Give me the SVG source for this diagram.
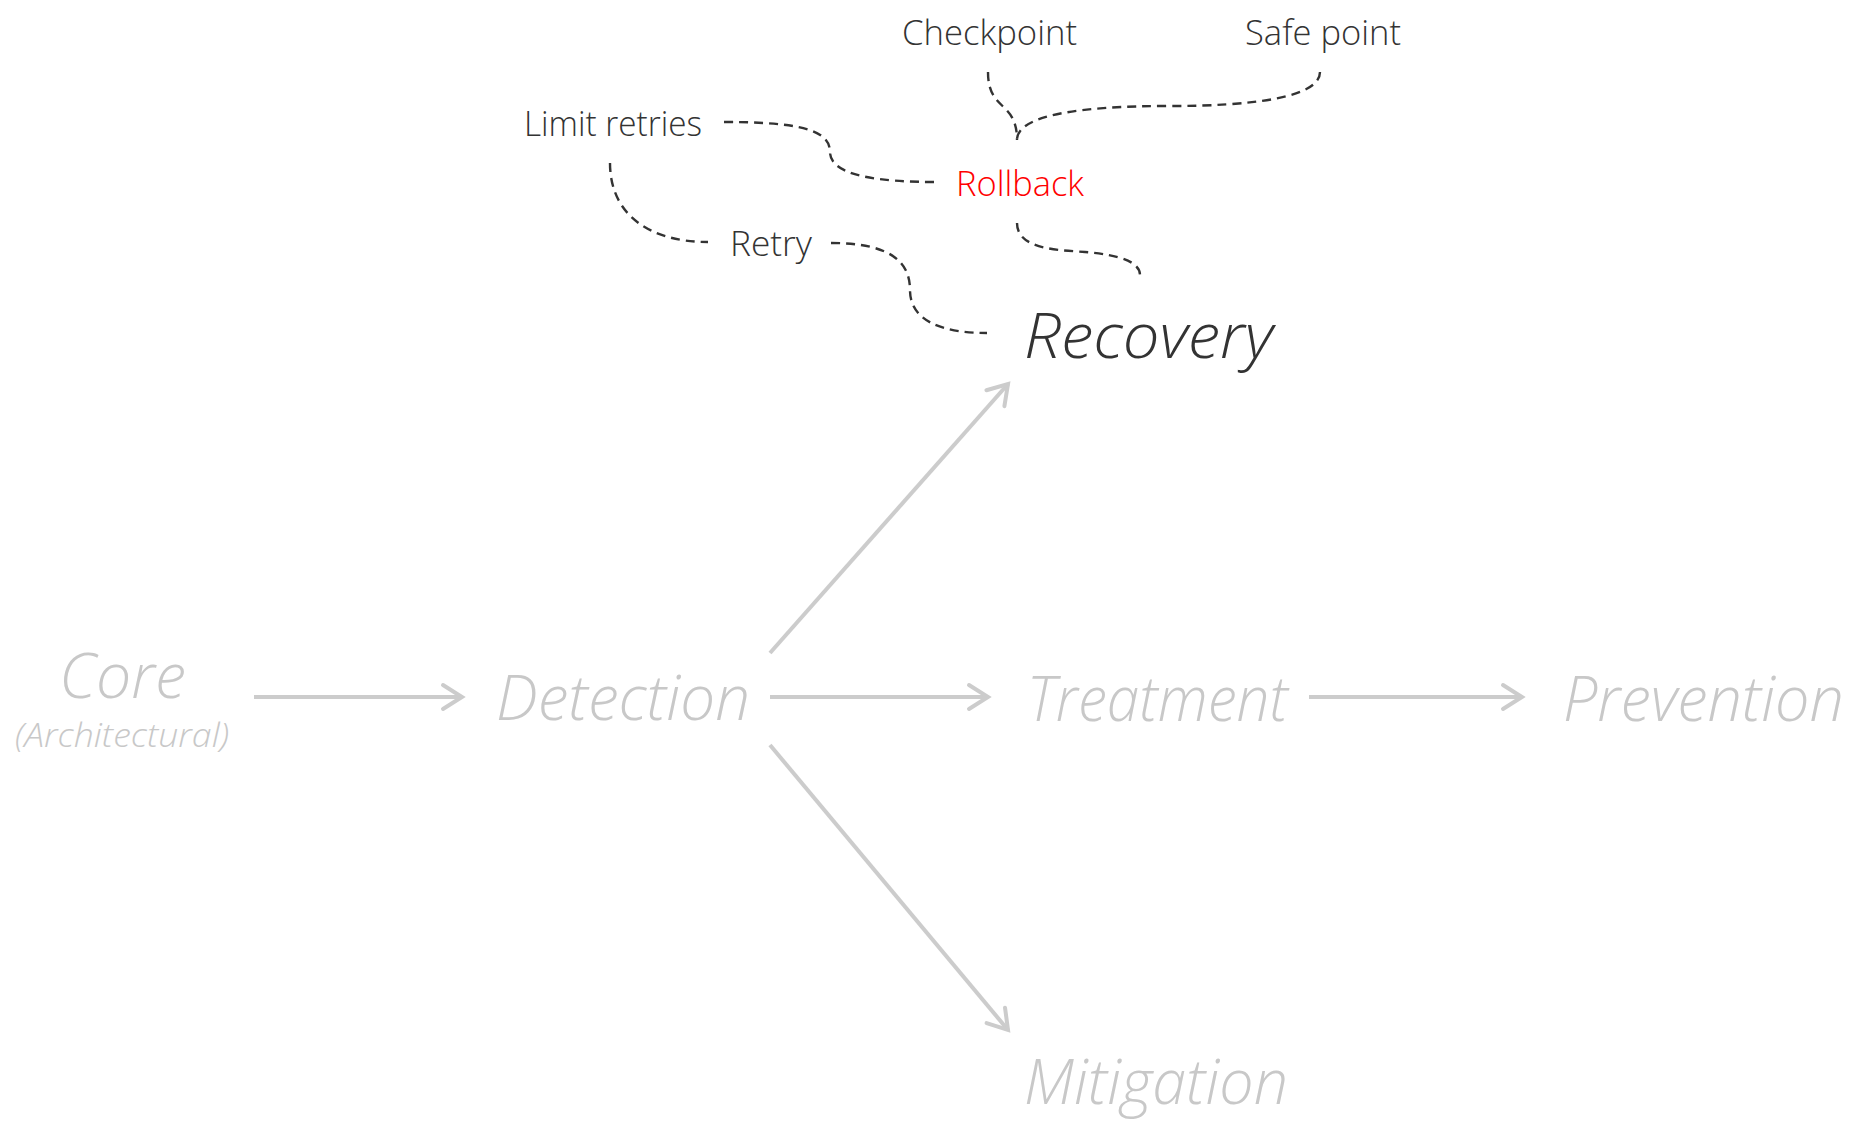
<svg xmlns="http://www.w3.org/2000/svg" width="1862" height="1128" viewBox="0 0 1862 1128">
<style>
text{font-family:"Open Sans","Lato","Liberation Sans",sans-serif;font-weight:300}
.sub{font-size:35px;fill:#333}
.main{font-size:62px;font-style:italic;fill:#c8c8c8}
.dash{fill:none;stroke:#333;stroke-width:2.4;stroke-dasharray:9 6}
.arr{fill:none;stroke:#cccccc;stroke-width:4;marker-end:url(#chev)}
</style>
<defs>
<marker id="chev" markerUnits="userSpaceOnUse" viewBox="0 0 26 30" refX="22" refY="15" markerWidth="26" markerHeight="30" orient="auto">
<path d="M3,3 L22,15 L3,27" fill="none" stroke="#cccccc" stroke-width="4" stroke-linecap="round" stroke-linejoin="miter"/>
</marker>
</defs>
<g id="connectors">
<path class="arr" d="M254,697 L462,697"/>
<path class="arr" d="M770,697 L988,697"/>
<path class="arr" d="M1309,697 L1522,697"/>
<path class="arr" d="M770,653 L1008,384"/>
<path class="arr" d="M770,745 L1008,1030"/>
<path class="dash" d="M988,72 C988,112 1017,100 1017,140"/>
<path class="dash" d="M1320,72 C1320,98 1250,106 1170,106 C1080,106 1017,115 1017,140"/>
<path class="dash" d="M724,122 C800,122 830,130 830,152 C830,176 880,182 935,182"/>
<path class="dash" d="M610,163 C610,215 650,242 708,242"/>
<path class="dash" d="M831,243 C895,243 910,265 910,290 C910,320 940,333 987,333"/>
<path class="dash" d="M1017,223 C1017,250 1060,250 1085,252 C1120,255 1140,262 1140,275"/>
</g>
<g id="checkpoint"><text class="sub" x="902" y="45" textLength="175" lengthAdjust="spacingAndGlyphs">Checkpoint</text></g>
<g id="safe-point"><text class="sub" x="1245" y="45" textLength="156" lengthAdjust="spacingAndGlyphs">Safe point</text></g>
<g id="limit-retries"><text class="sub" x="524" y="136" textLength="178" lengthAdjust="spacingAndGlyphs">Limit retries</text></g>
<g id="rollback"><text class="sub" x="956" y="196" textLength="128" lengthAdjust="spacingAndGlyphs" style="fill:#ff0000">Rollback</text></g>
<g id="retry"><text class="sub" x="730" y="256" textLength="82" lengthAdjust="spacingAndGlyphs">Retry</text></g>
<g id="recovery"><text class="main" x="1024" y="358" textLength="249" lengthAdjust="spacingAndGlyphs" style="fill:#333">Recovery</text></g>
<g id="core"><text class="main" x="59" y="698" textLength="127" lengthAdjust="spacingAndGlyphs">Core</text>
<text class="main" x="15" y="747" textLength="214" lengthAdjust="spacingAndGlyphs" style="font-size:33px">(Architectural)</text></g>
<g id="detection"><text class="main" x="496" y="720" textLength="254" lengthAdjust="spacingAndGlyphs">Detection</text></g>
<g id="treatment"><text class="main" x="1027" y="721" textLength="261" lengthAdjust="spacingAndGlyphs">Treatment</text></g>
<g id="prevention"><text class="main" x="1563" y="721" textLength="281" lengthAdjust="spacingAndGlyphs">Prevention</text></g>
<g id="mitigation"><text class="main" x="1024" y="1104" textLength="264" lengthAdjust="spacingAndGlyphs">Mitigation</text></g>
</svg>
